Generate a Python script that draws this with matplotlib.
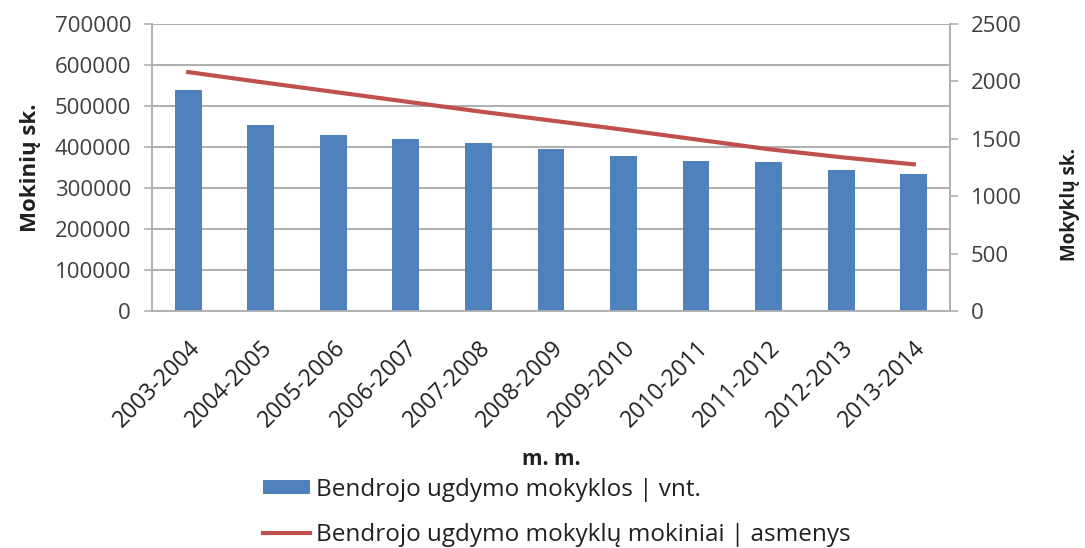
import matplotlib
matplotlib.use("Agg")
import matplotlib.pyplot as plt
from matplotlib.patches import Patch
from matplotlib.lines import Line2D

plt.rcParams['font.family'] = ['Open Sans', 'DejaVu Sans']

years = ['2003-2004', '2004-2005', '2005-2006', '2006-2007', '2007-2008', '2008-2009',
         '2009-2010', '2010-2011', '2011-2012', '2012-2013', '2013-2014']
bar_vals = [539000, 454000, 429000, 420000, 410000, 395000, 379000, 367000, 363000, 345000, 335000]
line_vals = [2082, 1995, 1910, 1825, 1740, 1660, 1580, 1495, 1410, 1340, 1278]

bar_label = 'Bendrojo ugdymo mokyklos | vnt.'
line_label = 'Bendrojo ugdymo mokyklų mokiniai | asmenys'

grid_c = '#b0b0b0'
text_c = '#404040'

fig = plt.figure(figsize=(10.85, 5.48), dpi=100)
ax = fig.add_axes([0.140, 0.4325, 0.7356, 0.5235])
ax2 = ax.twinx()

x = list(range(len(years)))
ax.bar(x, bar_vals, width=0.37, color='#4f81bd', zorder=3)
ax2.plot(x, line_vals, color='#c0504d', linewidth=3, zorder=4)

ax.set_xlim(-0.5, len(years) - 0.5)
ax.set_ylim(0, 700000)
ax.set_yticks(range(0, 700001, 100000))
ax2.set_ylim(0, 2500)
ax2.set_yticks(range(0, 2501, 500))

ax.yaxis.grid(True, color=grid_c, linewidth=1.5, zorder=0)
ax.set_axisbelow(True)

for a in (ax, ax2):
    a.spines['top'].set_visible(False)
    for s in ('left', 'right', 'bottom'):
        a.spines[s].set_color(grid_c)
        a.spines[s].set_linewidth(1.2)
    a.tick_params(axis='y', labelcolor=text_c, labelsize=16, length=6, width=1.2,
                  color=grid_c, pad=9)

ax.set_xticks(x)
ax.set_xticklabels(years, rotation=45, ha='right', rotation_mode='anchor', fontsize=16.5, color='#202020')
ax.tick_params(axis='x', length=0, pad=18)

ax.set_ylabel('Mokinių sk.', fontsize=16, fontweight='bold', color='#202020', labelpad=10)
ax2.set_ylabel('Mokyklų sk.', fontsize=13.5, fontweight='bold', color='#202020')
ax2.yaxis.set_label_coords(1.138, 0.37)
ax.set_xlabel('m. m.', fontsize=15, fontweight='bold', color='#202020', labelpad=12)

handles = [Patch(facecolor='#4f81bd', label=bar_label),
           Line2D([0], [0], color='#c0504d', linewidth=3, label=line_label)]
fig.legend(handles=handles, loc='upper left', bbox_to_anchor=(0.242, 0.128),
           bbox_transform=fig.transFigure, frameon=False, fontsize=17.5,
           handlelength=1.95, handleheight=0.5, handletextpad=0.25, labelspacing=0.85,
           labelcolor='#202020', borderaxespad=0, borderpad=0)

fig.savefig('out.png', dpi=100)
